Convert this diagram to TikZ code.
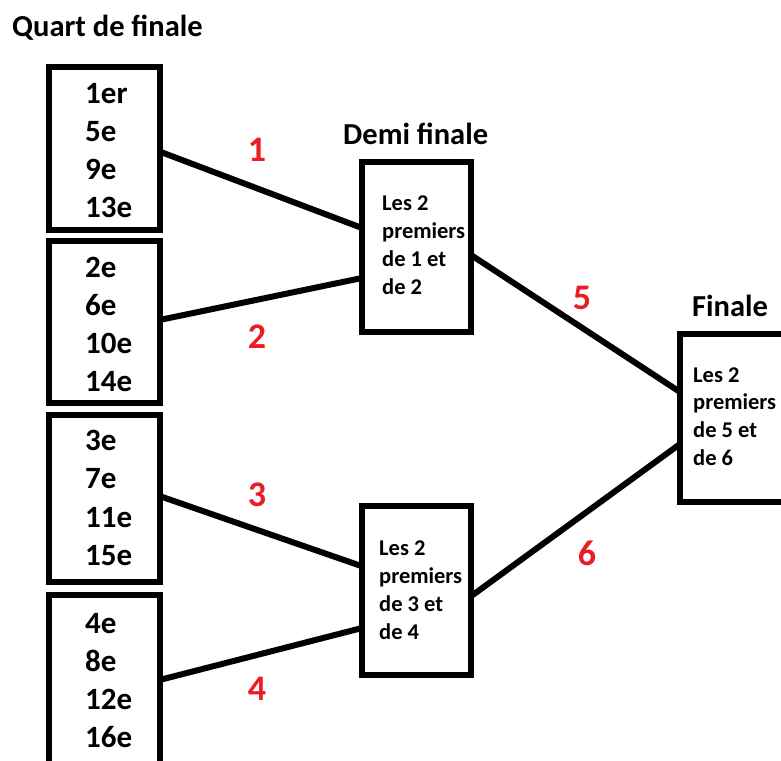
\documentclass[tikz,border=0pt]{standalone}
\usepackage{fontspec}
\setmainfont{Carlito}
\definecolor{labred}{RGB}{237,28,36}
\tikzset{
  box/.style={draw, line width=6pt, inner sep=0pt, outer sep=0pt, rectangle},
  conn/.style={line width=6pt},
  title/.style={anchor=base west, inner sep=0pt, font=\fontsize{30.5}{32}\selectfont\bfseries},
  qtext/.style={anchor=base west, inner sep=0pt, font=\fontsize{31}{38.3}\selectfont\bfseries},
  dtext/.style={anchor=base west, inner sep=0pt, font=\fontsize{22.5}{28}\selectfont\bfseries},
  num/.style={inner sep=0pt, text=labred, font=\fontsize{36}{38}\selectfont\bfseries}
}
\newcommand{\stack}[1]{\parbox[t]{6cm}{\raggedright #1}}
\begin{document}
\begin{tikzpicture}[x=1pt, y=-1pt]
\clip (0,0) rectangle (781,760);
\fill[white] (0,0) rectangle (781,760);
% titles
\node[title] (tq) at (12,37) {Quart de finale};
\node[title] (td) at (343,144) {Demi finale};
\node[title] (tf) at (692,316) {Finale};
% quarter boxes
\node[box, minimum width=110.5pt, minimum height=163pt] (q1) at (104.25,148.5) {};
\node[box, minimum width=110.5pt, minimum height=162pt] (q2) at (104.25,322) {};
\node[box, minimum width=110.5pt, minimum height=167pt] (q3) at (104.25,498) {};
\node[box, minimum width=110.5pt, minimum height=180pt] (q4) at (104.25,685) {};
\node[qtext] (q1t) at (85,103) {\stack{1er\\5e\\9e\\13e}};
\node[qtext] (q2t) at (85,277) {\stack{2e\\6e\\10e\\14e}};
\node[qtext] (q3t) at (85,450.5) {\stack{3e\\7e\\11e\\15e}};
\node[qtext] (q4t) at (85,633) {\stack{4e\\8e\\12e\\16e}};
% semi boxes
\node[box, minimum width=109pt, minimum height=170pt] (d1) at (416.5,247) {};
\node[box, minimum width=109pt, minimum height=168.5pt] (d2) at (416.5,590.25) {};
\node[dtext] (d1t) at (382,210) {\stack{Les 2\\premiers\\de 1 et\\de 2}};
\node[dtext] (d2t) at (379,555) {\stack{Les 2\\premiers\\de 3 et\\de 4}};
% final box
\node[box, minimum width=120pt, minimum height=168pt] (f) at (740,417.5) {};
\node[dtext, font=\fontsize{22.5}{27.7}\selectfont\bfseries] (ft) at (693,382) {\stack{Les 2\\premiers\\de 5 et\\de 6}};
% connectors
\draw[conn] ([yshift=-3pt]q1.east) -- ([yshift=19pt]d1.west);
\draw[conn] ([yshift=2pt]q2.east) -- ([yshift=-31pt]d1.west);
\draw[conn] ([yshift=2pt]q3.east) -- ([yshift=24pt]d2.west);
\draw[conn] ([yshift=5pt]q4.east) -- ([yshift=-37.75pt]d2.west);
\draw[conn] ([yshift=-8pt]d1.east) -- ([yshift=25.5pt]f.west);
\draw[conn] ([yshift=-6pt]d2.east) -- ([yshift=-26.5pt]f.west);
% match labels
\node[num] (n1) at (257,150) {1};
\node[num] (n2) at (257,337) {2};
\node[num] (n3) at (257,495) {3};
\node[num] (n4) at (257,688.5) {4};
\node[num] (n5) at (582,298) {5};
\node[num] (n6) at (587,553) {6};
\end{tikzpicture}
\end{document}
